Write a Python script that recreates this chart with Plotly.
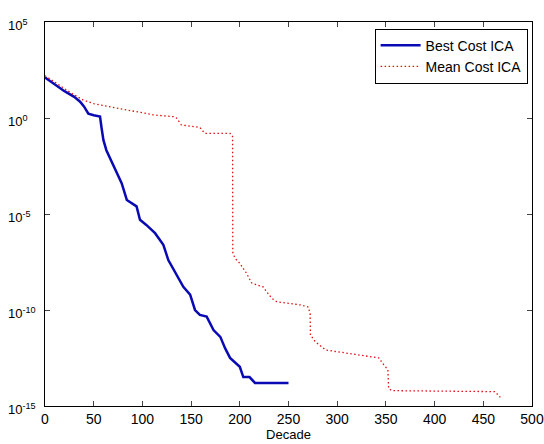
import math
import plotly.graph_objects as go

# Best Cost ICA
best_x = [0, 10, 20, 30, 36, 40, 44.5, 50, 56.5, 58, 60, 63, 68, 72, 78.7, 84, 90, 94,
          97.5, 104, 113, 121.5, 126.6, 135, 142, 149, 154, 159, 166, 173, 180, 185, 190,
          200, 203.6, 210, 215.6, 250]
best_y = [1.3e2, 56, 25, 12.6, 7.1, 4.0, 1.7, 1.4, 1.2, 0.32, 0.07, 0.021, 6.3e-3, 2e-3,
          4e-4, 5.4e-5, 3.5e-5, 2.5e-5, 5e-6, 2.7e-6, 1e-6, 2.5e-7, 4e-8, 6.3e-9, 1.6e-9,
          6.3e-10, 1e-10, 5.5e-11, 4.5e-11, 9e-12, 4e-12, 1e-12, 3.2e-13, 1.1e-13, 3.2e-14,
          3.2e-14, 1.6e-14, 1.6e-14]

# Mean Cost ICA
mean_x = [0, 10, 22, 30, 39, 50, 56.5, 70, 84, 100, 111, 132, 135, 140, 156, 159, 164, 190,
          192.6, 192.8, 195, 200, 207, 212, 218, 224, 227.6, 233, 238, 250, 263.5, 270.5,
          272.2, 272.5, 277.6, 288, 300, 311.6, 332, 342.6, 347.8, 352, 352.8, 356, 400,
          462, 467.5]
mean_y = [1.6e2, 71, 29, 16, 8.7, 5.6, 4.8, 3.5, 2.6, 1.9, 1.45, 1.17, 1.0, 0.44, 0.35, 0.32,
          0.16, 0.16, 0.107, 1e-7, 5e-8, 2.7e-8, 8e-9, 2.6e-9, 2e-9, 1.6e-9, 8.9e-10, 4e-10,
          2.7e-10, 2.2e-10, 1.8e-10, 1.4e-10, 6.3e-11, 5e-12, 2.2e-12, 8.3e-13, 6.6e-13,
          5.5e-13, 3.7e-13, 3.2e-13, 1.4e-13, 7.9e-14, 8.3e-15, 6.3e-15, 6e-15, 5.6e-15,
          2.8e-15]

x_ticks = [0, 50, 100, 150, 200, 250, 300, 350, 400, 450, 500]
y_ticks = [1e-15, 1e-10, 1e-5, 1, 1e5]
y_ticktext = ["10<sup>-15</sup>", "10<sup>-10</sup>", "10<sup>-5</sup>", "10<sup>0</sup>", "10<sup>5</sup>"]

fig = go.Figure()
fig.add_trace(go.Scatter(x=best_x, y=best_y, mode="lines", name="Best Cost ICA",
                         line=dict(color="#0a0ab4", width=2.5)))
fig.add_trace(go.Scatter(x=mean_x, y=mean_y, mode="lines", name="Mean Cost ICA",
                         line=dict(color="#e01010", width=1.3, dash="1.5px,2.5px")))

# y tick labels, left aligned like the original ("10" column fixed, exponent after)
for v, t in zip(y_ticks, y_ticktext):
    fig.add_annotation(x=0, xref="paper", y=math.log10(v), yref="y", text=t,
                       showarrow=False, xanchor="left", yanchor="middle",
                       xshift=-39, yshift=-3, font=dict(size=13))

font = "Liberation Sans, Arial, sans-serif"
fig.update_layout(
    width=544, height=444,
    margin=dict(l=45, r=12, t=22, b=38),
    paper_bgcolor="white", plot_bgcolor="white",
    font=dict(family=font, size=13, color="black"),
    showlegend=True,
    legend=dict(x=0.991, y=0.983, xanchor="right", yanchor="top",
                bordercolor="black", borderwidth=1, bgcolor="white",
                font=dict(size=14), tracegroupgap=0, itemwidth=40),
    xaxis=dict(range=[0, 500], tickvals=x_ticks, ticks="inside", ticklen=5,
               showline=True, linecolor="black", linewidth=1, mirror="ticks",
               showgrid=False, zeroline=False, automargin=False,
               tickfont=dict(size=14),
               title=dict(text="Decade", standoff=3, font=dict(size=13))),
    yaxis=dict(type="log", range=[-15, 5], tickvals=y_ticks, showticklabels=False,
               ticks="inside", ticklen=5, showline=True, linecolor="black", linewidth=1,
               mirror="ticks", showgrid=False, zeroline=False, automargin=False),
)

fig.write_html("out.html", config={"displayModeBar": False},
               post_script="document.body.style.margin='0';document.body.style.overflow='hidden';")
